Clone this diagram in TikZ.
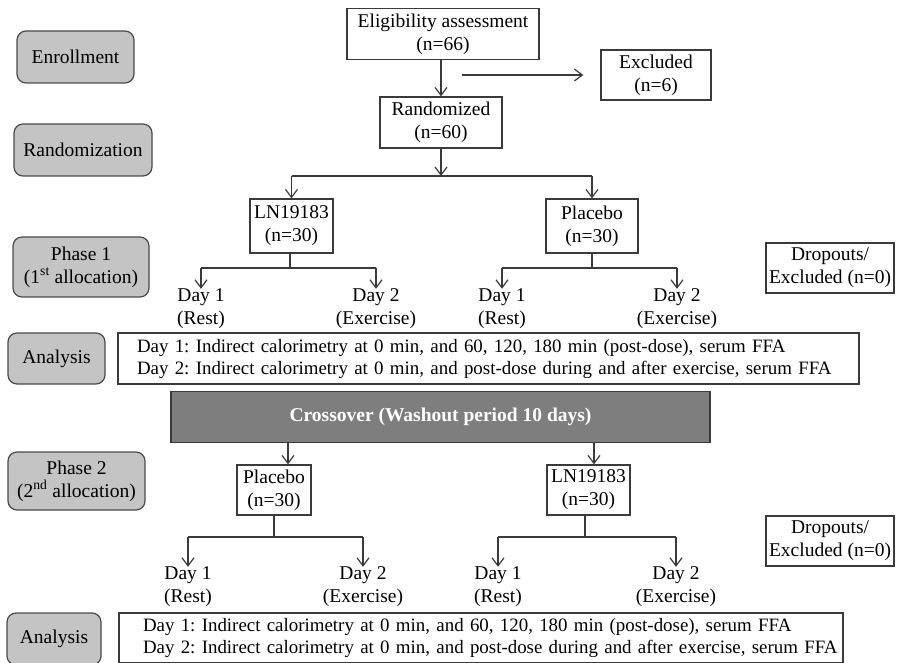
\documentclass[tikz,border=0pt]{standalone}
\usepackage{fontspec}
\setmainfont{Liberation Serif}
\usetikzlibrary{arrows.meta}
\definecolor{linec}{HTML}{3A3A3A}
\definecolor{gfill}{HTML}{C4C4C4}
\definecolor{gborder}{HTML}{4A4A4A}
\definecolor{xfill}{HTML}{7E7E7E}
\begin{document}
\frenchspacing
\begin{tikzpicture}[x=1pt,y=-1pt,
  base/.style={font=\fontsize{19.5pt}{23pt}\selectfont, align=center, inner sep=0pt},
  wbox/.style={base, draw=linec, line width=1.2pt, fill=white},
  gbox/.style={base, draw=gborder, fill=gfill, rounded corners=9pt, line width=1.2pt},
  xbox/.style={base, draw=linec, fill=xfill, text=white, font=\fontsize{19.5pt}{23pt}\selectfont\bfseries, line width=1.2pt},
  abox/.style={wbox, font=\fontsize{18.9pt}{22pt}\selectfont, align=left},
  lbl/.style={base},
  ln/.style={draw=linec, line width=1.2pt},
  arr/.style={ln, -{Straight Barb[length=8pt,width=12pt]}}
]
\useasboundingbox (0,0) rectangle (903,663);

% left stage labels
\node[gbox, minimum width=117pt, minimum height=52pt] (enr) at (75.5,57) {Enrollment};
\node[gbox, minimum width=138pt, minimum height=52pt] (rnd) at (83,150) {Randomization};
\node[gbox, minimum width=136pt, minimum height=60pt] (ph1) at (81,267) {Phase 1\\(1\textsuperscript{st} allocation)};
\node[gbox, minimum width=97pt, minimum height=51pt] (an1l) at (56.5,358.5) {Analysis};
\node[gbox, minimum width=137pt, minimum height=58pt] (ph2) at (76.5,481) {Phase 2\\(2\textsuperscript{nd} allocation)};
\node[gbox, minimum width=94pt, minimum height=52pt] (an2l) at (54,639) {Analysis};

% top part
\node[wbox, minimum width=192pt, minimum height=51pt] (elig) at (443,34) {Eligibility assessment\\(n=66)};
\node[wbox, minimum width=122pt, minimum height=51pt] (rand) at (441,122.5) {Randomized\\(n=60)};
\node[wbox, minimum width=110pt, minimum height=50pt] (excl) at (656,75) {Excluded\\(n=6)};

\node[wbox, minimum width=83pt, minimum height=54pt] (ln1) at (291.5,226) {LN19183\\(n=30)};
\node[wbox, minimum width=92pt, minimum height=54pt] (pl1) at (592,226) {Placebo\\(n=30)};
\node[wbox, minimum width=128pt, minimum height=50pt] (dr1) at (830,268) {Dropouts/\\Excluded (n=0)};

\node[lbl] (d11) at (201,309) {Day 1\\(Rest)};
\node[lbl] (d12) at (376,309) {Day 2\\(Exercise)};
\node[lbl] (d13) at (502,309) {Day 1\\(Rest)};
\node[lbl] (d14) at (677,309) {Day 2\\(Exercise)};

\node[abox, minimum width=741pt, minimum height=51pt, text width=703pt, inner xsep=19pt] (an1) at (488.5,358.5)
  {\mbox{Day 1: Indirect calorimetry at 0 min, and 60, 120, 180 min (post-dose), serum FFA}\\
   \mbox{Day 2: Indirect calorimetry at 0 min, and post-dose during and after exercise, serum FFA}};

\node[xbox, minimum width=539pt, minimum height=51pt] (cross) at (440.5,417) {Crossover (Washout period 10 days)};

% phase 2
\node[wbox, minimum width=74pt, minimum height=50pt] (pl2) at (274,490) {Placebo\\(n=30)};
\node[wbox, minimum width=83pt, minimum height=50pt] (ln2) at (588.5,490) {LN19183\\(n=30)};
\node[wbox, minimum width=128pt, minimum height=50pt] (dr2) at (830,541) {Dropouts/\\Excluded (n=0)};

\node[lbl] (d21) at (188,587) {Day 1\\(Rest)};
\node[lbl] (d22) at (363,587) {Day 2\\(Exercise)};
\node[lbl] (d23) at (498,587) {Day 1\\(Rest)};
\node[lbl] (d24) at (676,587) {Day 2\\(Exercise)};

\node[abox, minimum width=724pt, minimum height=50pt, text width=676pt, inner xsep=24pt] (an2) at (481,638)
  {\mbox{Day 1: Indirect calorimetry at 0 min, and 60, 120, 180 min (post-dose), serum FFA}\\
   \mbox{Day 2: Indirect calorimetry at 0 min, and post-dose during and after exercise, serum FFA}};

% connectors: top
\draw[arr] (elig.south -| rand.north) -- (rand.north);
\coordinate (exs) at (462,75);
\draw[arr] (exs) -- ([xshift=-17pt]excl.west);
\coordinate (sp) at (441,176);
\draw[arr] (rand.south) -- (sp);
\coordinate (spL) at (ln1.north |- sp);
\coordinate (spR) at (pl1.north |- sp);
\draw[ln] (spL) -- (spR);
\draw[arr] (spL) -- (ln1.north);
\draw[arr] (spR) -- (pl1.north);

% phase 1 branches
\coordinate (b1) at (290,268);
\coordinate (b2) at (592,268);
\draw[ln] (b1 |- ln1.south) -- (b1);
\draw[ln] (b2 |- pl1.south) -- (b2);
\draw[ln] (d11.north |- b1) -- (d12.north |- b1);
\draw[ln] (d13.north |- b2) -- (d14.north |- b2);
\draw[arr] (d11.north |- b1) -- (d11.north);
\draw[arr] (d12.north |- b1) -- (d12.north);
\draw[arr] (d13.north |- b2) -- (d13.north);
\draw[arr] (d14.north |- b2) -- (d14.north);

% crossover to phase 2
\coordinate (c1) at (288,0);
\coordinate (c2) at (594,0);
\draw[arr] (c1 |- cross.south) -- (c1 |- pl2.north);
\draw[arr] (c2 |- cross.south) -- (c2 |- ln2.north);

% phase 2 branches
\coordinate (e1) at (274,537);
\coordinate (e2) at (585,537);
\draw[ln] (e1 |- pl2.south) -- (e1);
\draw[ln] (e2 |- ln2.south) -- (e2);
\draw[ln] (d21.north |- e1) -- (d22.north |- e1);
\draw[ln] (d23.north |- e2) -- (d24.north |- e2);
\draw[arr] (d21.north |- e1) -- (d21.north);
\draw[arr] (d22.north |- e1) -- (d22.north);
\draw[arr] (d23.north |- e2) -- (d23.north);
\draw[arr] (d24.north |- e2) -- (d24.north);
\end{tikzpicture}
\end{document}
